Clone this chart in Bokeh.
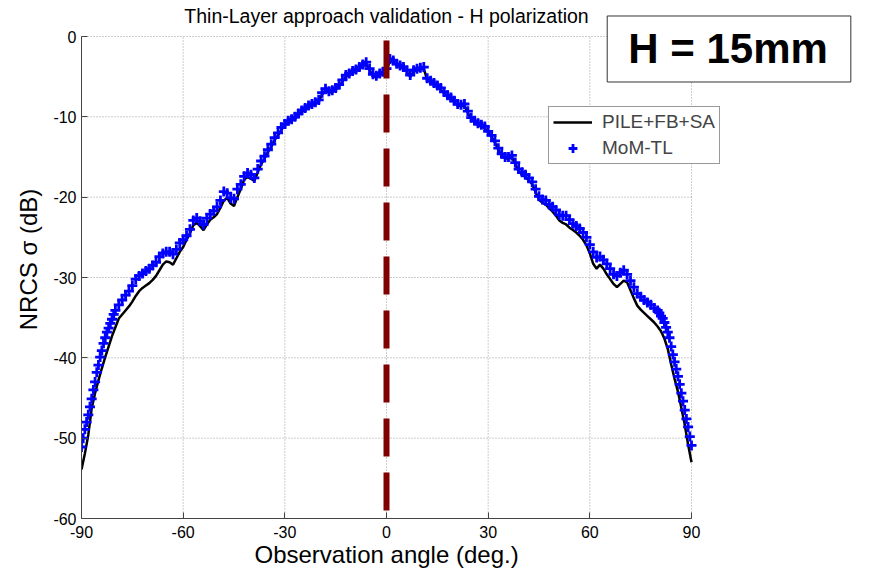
import numpy as np
from bokeh.plotting import figure
from bokeh.models import Range1d, Label, Legend, LegendItem, FixedTicker, Title
from bokeh.embed import file_html
from bokeh.resources import INLINE

# ---------------- data ----------------
title_text = "Thin-Layer approach validation - H polarization"
x_label = "Observation angle (deg.)"
y_label = "NRCS \u03c3 (dB)"
box_text = "H = 15mm"
series_names = ["PILE+FB+SA", "MoM-TL"]

x_ticks = [-90, -60, -30, 0, 30, 60, 90]
x_tick_labels = ["-90", "-60", "-30", "0", "30", "60", "90"]
y_ticks = [-60, -50, -40, -30, -20, -10, 0]
y_tick_labels = ["-60", "-50", "-40", "-30", "-20", "-10", "0"]

# MoM-TL angles: 0.5 deg near grazing, 1 deg elsewhere
mom_angles = np.concatenate([np.arange(-90, -80, 0.5), np.arange(-80, 80, 1.0), np.arange(80, 90.5, 0.5)])
mom_left = [-51.1, -50.0, -48.9, -48.0, -47.1, -46.1, -45.1, -44.0, -43.0, -41.8,
            -40.9, -39.9, -39.1, -38.2, -37.5, -36.8, -36.3, -35.7, -35.2, -34.6]
mom_mid = [-34.1, -33.4, -32.8, -32.2, -31.7, -31.0, -30.2, -29.8, -29.5, -29.2,
           -28.9, -28.5, -28.1, -27.4, -27.0, -26.8, -26.8, -27.1, -26.5, -25.7,
           -25.3, -24.8, -24.0, -22.9, -22.6, -23.0, -23.4, -22.6, -22.1, -21.7,
           -21.2, -20.4, -19.3, -19.5, -20.1, -20.2, -19.0, -18.4, -17.4, -17.0,
           -17.2, -17.6, -16.5, -15.5, -14.9, -14.1, -13.4, -12.6, -12.0, -11.3,
           -10.9, -10.5, -10.3, -10.0, -9.6, -9.2, -8.9, -8.6, -8.4, -8.2,
           -7.9, -7.0, -6.5, -6.8, -6.7, -6.4, -6.0, -5.4, -4.8, -4.6,
           -4.3, -4.1, -3.8, -3.5, -3.2, -4.0, -4.7, -4.9, -4.6, -4.4,
           -4.0, -2.8, -3.0, -3.4, -3.6, -3.8, -4.2, -4.8, -4.2, -4.0,
           -3.9, -3.8, -5.2, -5.5, -5.8, -6.1, -6.4, -6.9, -7.3, -7.6,
           -8.0, -8.4, -8.5, -8.4, -9.3, -10.1, -10.5, -10.8, -11.0, -11.2,
           -11.8, -12.3, -13.0, -13.9, -14.6, -15.0, -15.0, -14.8, -15.7, -16.5,
           -16.9, -17.2, -17.6, -18.1, -19.0, -19.9, -20.3, -20.4, -20.9, -21.2,
           -21.6, -22.2, -22.3, -22.3, -22.8, -23.3, -23.6, -23.9, -24.4, -25.0,
           -25.9, -26.8, -27.5, -27.4, -27.8, -28.3, -28.9, -29.6, -29.8, -29.4,
           -29.1, -29.6, -30.4, -31.2, -32.0, -32.4, -32.8, -33.1, -33.4, -33.8]
mom_right = [-34.1, -34.4, -34.8, -35.1, -35.6, -36.2, -36.8, -37.5, -38.6, -39.6,
             -40.5, -41.4, -42.3, -43.3, -44.4, -45.4, -46.5, -47.6, -48.6, -49.8, -50.9]
mom_db = mom_left + mom_mid + mom_right

# PILE+FB+SA, every degree from -90 to 90
pile_angles = np.arange(-90, 91, 1.0)
pile_db = [-53.9, -51.9, -49.6, -46.3, -44.4, -42.8, -41.3, -39.9, -38.6, -37.3,
           -36.2, -35.1, -34.6, -34.1, -33.6, -33.0, -32.3, -31.7, -31.3, -31.0,
           -30.7, -30.3, -29.8, -29.1, -28.4, -28.0, -28.1, -28.4, -27.6, -26.8,
           -26.2, -25.3, -24.5, -23.5, -23.2, -23.6, -24.1, -23.4, -22.8, -22.5,
           -22.1, -21.3, -20.4, -20.1, -20.8, -21.1, -20.0, -19.0, -17.8, -17.5,
           -17.7, -18.0, -16.9, -15.9, -15.2, -14.4, -13.7, -12.9, -12.3, -11.6,
           -11.1, -10.7, -10.5, -10.2, -9.8, -9.4, -9.1, -8.8, -8.6, -8.4,
           -8.1, -7.2, -6.7, -7.0, -6.9, -6.6, -6.2, -5.6, -5.0, -4.8,
           -4.5, -4.3, -4.0, -3.7, -3.4, -4.2, -4.9, -5.1, -4.8, -4.6,
           -4.2,
           -3.0, -3.2, -3.6, -3.8, -4.0, -4.4, -5.0, -4.4, -4.2, -4.1,
           -4.0, -5.4, -5.7, -6.0, -6.3, -6.6, -7.1, -7.5, -7.8, -8.2,
           -8.6, -8.7, -8.6, -9.5, -10.3, -10.7, -11.0, -11.2, -11.4, -12.0,
           -12.5, -13.2, -14.1, -14.8, -15.2, -15.2, -15.0, -15.9, -16.8, -17.2,
           -17.5, -17.9, -18.4, -19.4, -20.3, -20.7, -20.9, -21.4, -21.8, -22.3,
           -22.9, -23.2, -23.4, -23.8, -24.1, -24.4, -24.8, -25.3, -26.0, -27.0,
           -28.3, -28.9, -28.4, -28.9, -29.6, -30.2, -30.8, -31.2, -30.8, -30.4,
           -30.6, -31.6, -32.6, -33.5, -34.0, -34.4, -34.8, -35.2, -35.6, -36.1,
           -36.7, -37.6, -38.9, -40.8, -42.6, -44.2, -46.2, -48.3, -50.8, -53.0]

ref_angle = [0, 0]
ref_db = [0, -60]

assert len(mom_db) == len(mom_angles)
assert len(pile_db) == len(pile_angles)

# ---------------- layout geometry ----------------
FONT = "Liberation Sans"
W, H = 880, 574
FL, FB, FT = 81, 518, 0           # frame left / bottom / top in canvas px
PX_X = 610 / 180.0                # px per degree (axis -90..90 spans 610 px)
PX_Y = 482 / 60.0                 # px per dB    (axis -60..0 spans 482 px)
x_end = -90 + (W - FL) / PX_X     # frame extends right of the axis to hold the annotations
y_end = -60 + (FB - FT) / PX_Y    # frame extends above the axis to hold the title

p = figure(width=W, height=H, x_range=Range1d(-90, x_end), y_range=Range1d(-60, y_end),
           output_backend="svg", toolbar_location=None,
           min_border_left=FL, min_border_right=0, min_border_top=FT, min_border_bottom=H - FB)
p.outline_line_color = None
p.background_fill_color = "white"
p.border_fill_color = "white"
p.grid.visible = False

for ax, ticks, labels in ((p.xaxis[0], x_ticks, x_tick_labels), (p.yaxis[0], y_ticks, y_tick_labels)):
    ax.ticker = FixedTicker(ticks=ticks)
    ax.bounds = (min(ticks), max(ticks))
    ax.major_label_overrides = {t: l for t, l in zip(ticks, labels)}
    ax.major_label_text_font = FONT
    ax.major_label_text_font_size = "16px"
    ax.major_label_text_color = "black"
    ax.axis_line_color = "#444444"
    ax.major_tick_line_color = "#444444"
    ax.major_tick_in = 6
    ax.major_tick_out = 0
    ax.minor_tick_in = 0
    ax.minor_tick_out = 0
    ax.axis_label_text_font = FONT
    ax.axis_label_text_font_size = "24px"
    ax.axis_label_text_font_style = "normal"
    ax.axis_label_text_color = "black"
p.yaxis.axis_label = y_label
p.xaxis.major_label_standoff = 7
p.yaxis.major_label_standoff = 5
p.yaxis.axis_label_standoff = 8

# x-axis title, positioned under the axis (not under the wider frame)
p.add_layout(Title(text=x_label, align="left", offset=173, standoff=0, vertical_align="top",
                   text_font=FONT, text_font_size="24px", text_font_style="normal",
                   text_color="black"), "below")

# dotted grid, limited to the axes' extent
grid_style = dict(line_color="#9a9a9a", line_dash="1 2", line_width=1)
p.segment(x0=x_ticks, y0=[min(y_ticks)] * len(x_ticks), x1=x_ticks, y1=[max(y_ticks)] * len(x_ticks), **grid_style)
p.segment(x0=[min(x_ticks)] * len(y_ticks), y0=y_ticks, x1=[max(x_ticks)] * len(y_ticks), y1=y_ticks, **grid_style)

pile = p.line(pile_angles, pile_db, line_color="black", line_width=2.5)
mom = p.scatter(mom_angles, mom_db, marker="cross", size=10, line_color="#0000ff", line_width=2.8)
p.line(ref_angle, ref_db, line_color="#800000", line_width=6, line_dash="38 16",
       line_dash_offset=50, line_cap="butt")

legend = Legend(items=[LegendItem(label=series_names[0], renderers=[pile]),
                       LegendItem(label=series_names[1], renderers=[mom])],
                location=(467, 354), orientation="vertical")
legend.label_text_font = FONT
legend.label_text_font_size = "19px"
legend.glyph_width = 39
legend.glyph_height = 22
legend.label_standoff = 10
legend.padding = 4
legend.spacing = 4
legend.margin = 0
legend.label_height = 22
legend.border_line_color = "#333333"
legend.border_line_width = 1
legend.background_fill_alpha = 1
p.add_layout(legend, "center")

p.add_layout(Label(x=0, y=(36 - 15.5) / PX_Y, text=title_text, text_align="center", text_baseline="middle",
                   text_font=FONT, text_font_size="19.5px", text_color="black"))
p.add_layout(Label(x=101.07, y=-1.556, text=box_text, text_align="center", text_baseline="middle",
                   text_font=FONT, text_font_size="42px", text_font_style="bold",
                   text_color="black", border_line_color="#333333", border_line_width=1,
                   background_fill_color="white", padding=(21, 23, 9, 10)))

open("out.html", "w").write(file_html(p, INLINE))
